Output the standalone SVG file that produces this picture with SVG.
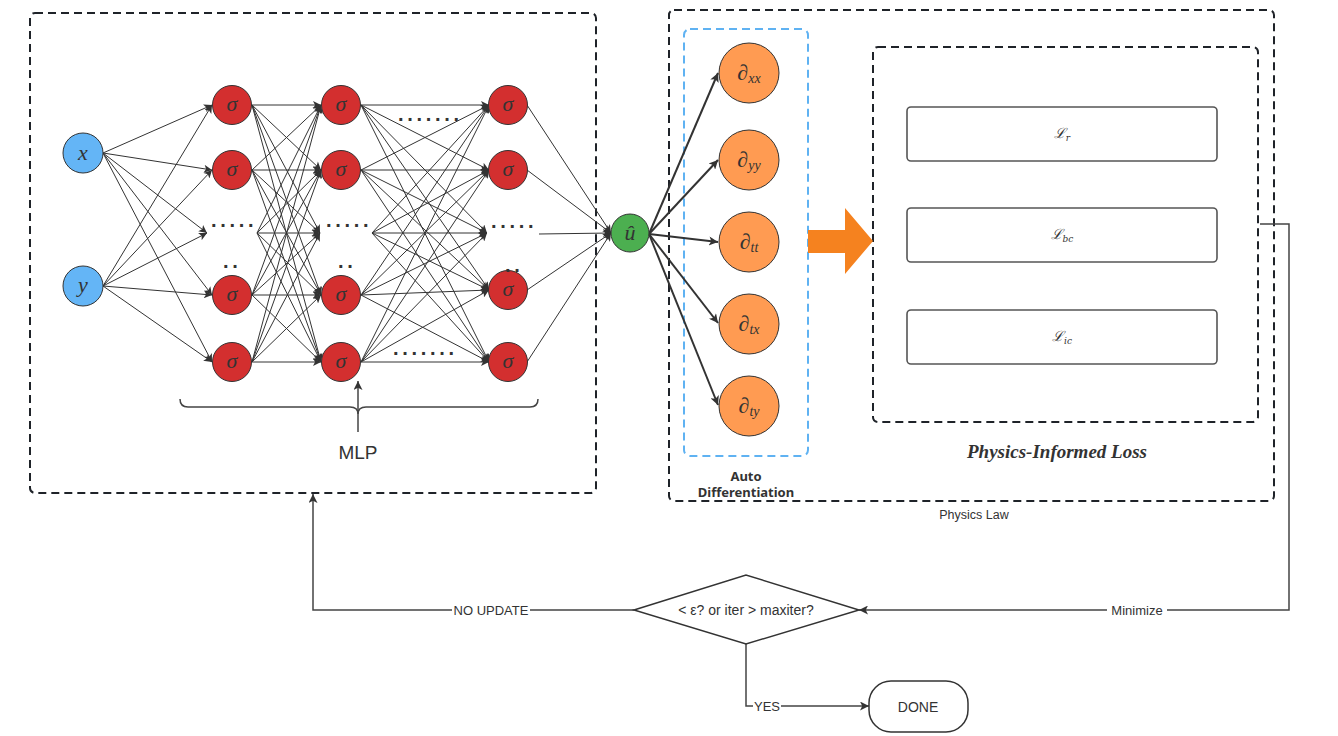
<svg xmlns="http://www.w3.org/2000/svg" width="1338" height="736" viewBox="0 0 1338 736">
<defs>
<marker id="a" markerUnits="userSpaceOnUse" viewBox="0 0 10 10" refX="10" refY="5" markerWidth="10" markerHeight="8" orient="auto"><path d="M0,0 L10,5 L0,10 L2.5,5 Z" fill="#333"/></marker>
<marker id="b" markerUnits="userSpaceOnUse" viewBox="0 0 10 10" refX="10" refY="5" markerWidth="12" markerHeight="9" orient="auto"><path d="M0,0 L10,5 L0,10 L2.5,5 Z" fill="#333"/></marker>
<style>
.box{fill:none;stroke:#1f2329;stroke-width:2;stroke-dasharray:8 5}
.blue{fill:none;stroke:#5fb2f2;stroke-width:2;stroke-dasharray:8 5}
.e{fill:none;stroke:#333;stroke-width:1;marker-end:url(#a)}
.d{fill:none;stroke:#333;stroke-width:2;marker-end:url(#b)}
.c{fill:none;stroke:#444;stroke-width:1.5}
.ca{fill:none;stroke:#444;stroke-width:1.5;marker-end:url(#b)}
.sig{fill:#d32f2f;stroke:#333;stroke-width:1}
.in{fill:#64b5f6;stroke:#333;stroke-width:1}
.der{fill:#ff9b52;stroke:#333;stroke-width:1}
.m{font-family:'Liberation Serif',serif;font-style:italic;fill:#333;text-anchor:middle}
.s{font-family:'Liberation Sans',sans-serif;fill:#333;text-anchor:middle}
.dots{font-family:'Liberation Sans',sans-serif;font-weight:bold;font-size:20px;fill:#333;letter-spacing:3.7px}
.L{font-family:'DejaVu Serif',serif;font-style:italic;font-size:14px;fill:#333;text-anchor:middle}
.lb{fill:#fff;stroke:#555;stroke-width:1.6}
</style>
</defs>
<rect id="mlp-box" class="box" x="30" y="13" width="566" height="480" rx="5"/>
<rect id="physics-law-box" class="box" x="669" y="10" width="605" height="491" rx="5"/>
<rect id="autodiff-box" class="blue" x="684" y="29" width="124" height="427" rx="6"/>
<rect id="loss-box" class="box" x="873" y="47" width="385" height="375" rx="5"/>
<g id="connectors">
<path class="e" d="M103,153 L212,105"/><path class="e" d="M103,153 L212,170"/><path class="e" d="M103,153 L207,233"/><path class="e" d="M103,153 L212,295"/><path class="e" d="M103,153 L212,362"/>
<path class="e" d="M103,286 L212,105"/><path class="e" d="M103,286 L212,170"/><path class="e" d="M103,286 L207,233"/><path class="e" d="M103,286 L212,295"/><path class="e" d="M103,286 L212,362"/>
<path class="e" d="M252,105 L321,105"/><path class="e" d="M252,105 L321,170"/><path class="e" d="M252,105 L320,233"/><path class="e" d="M252,105 L321,295"/><path class="e" d="M252,105 L321,362"/>
<path class="e" d="M252,170 L321,105"/><path class="e" d="M252,170 L321,170"/><path class="e" d="M252,170 L320,233"/><path class="e" d="M252,170 L321,295"/><path class="e" d="M252,170 L321,362"/>
<path class="e" d="M257,233 L321,105"/><path class="e" d="M257,233 L321,170"/><path class="e" d="M257,233 L320,233"/><path class="e" d="M257,233 L321,295"/><path class="e" d="M257,233 L321,362"/>
<path class="e" d="M252,295 L321,105"/><path class="e" d="M252,295 L321,170"/><path class="e" d="M252,295 L320,233"/><path class="e" d="M252,295 L321,295"/><path class="e" d="M252,295 L321,362"/>
<path class="e" d="M252,362 L321,105"/><path class="e" d="M252,362 L321,170"/><path class="e" d="M252,362 L320,233"/><path class="e" d="M252,362 L321,295"/><path class="e" d="M252,362 L321,362"/>
<path class="e" d="M361,105 L489,105"/><path class="e" d="M361,105 L489,170"/><path class="e" d="M361,105 L487,233"/><path class="e" d="M361,105 L489,290"/><path class="e" d="M361,105 L489,362"/>
<path class="e" d="M361,170 L489,105"/><path class="e" d="M361,170 L489,170"/><path class="e" d="M361,170 L487,233"/><path class="e" d="M361,170 L489,290"/><path class="e" d="M361,170 L489,362"/>
<path class="e" d="M372,233 L489,105"/><path class="e" d="M372,233 L489,170"/><path class="e" d="M372,233 L487,233"/><path class="e" d="M372,233 L489,290"/><path class="e" d="M372,233 L489,362"/>
<path class="e" d="M361,295 L489,105"/><path class="e" d="M361,295 L489,170"/><path class="e" d="M361,295 L487,233"/><path class="e" d="M361,295 L489,290"/><path class="e" d="M361,295 L489,362"/>
<path class="e" d="M361,362 L489,105"/><path class="e" d="M361,362 L489,170"/><path class="e" d="M361,362 L487,233"/><path class="e" d="M361,362 L489,290"/><path class="e" d="M361,362 L489,362"/>
<path class="e" d="M527,105 L611,233"/><path class="e" d="M527,170 L611,233"/><path class="e" d="M539,234 L611,233"/><path class="e" d="M527,290 L611,233"/><path class="e" d="M527,362 L611,233"/>
<path class="d" d="M649,234 L718,73"/><path class="d" d="M649,234 L718,160"/><path class="d" d="M649,234 L718,242"/><path class="d" d="M649,234 L718,323"/><path class="d" d="M649,234 L718,405"/>
<path class="c" d="M180,399 Q180,407 188,407 L350,407 Q358,407 358,414 Q358,407 366,407 L530,407 Q538,407 538,399"/>
<path class="ca" d="M358,432 L358,381"/>
<polygon fill="#f5821f" points="808,230 845,230 845,208 873,241 845,274 845,253 808,253"/>
<path class="ca" d="M1260,224 L1289,224 L1289,610 L859,610"/>
<path class="ca" d="M634,610 L313,610 L313,494"/>
<path class="ca" d="M746,644 L746,706 L869,706"/>
<rect x="1107" y="601" width="60" height="18" fill="#fff"/>
<text class="s" x="1137" y="615" font-size="13">Minimize</text>
<rect x="452" y="601" width="78" height="18" fill="#fff"/>
<text class="s" x="491" y="615" font-size="13">NO UPDATE</text>
<rect x="753" y="697" width="28" height="18" fill="#fff"/>
<text class="s" x="767" y="711" font-size="13">YES</text>
</g>
<g id="node-x"><circle class="in" cx="83" cy="153" r="20"/><text class="m" x="83" y="160" font-size="22">x</text></g>
<g id="node-y"><circle class="in" cx="83" cy="286" r="20"/><text class="m" x="83" y="292" font-size="22">y</text></g>
<g id="l1-1"><circle class="sig" cx="232" cy="105" r="19.5"/><text class="m" x="232" y="111" font-size="22">σ</text></g>
<g id="l1-2"><circle class="sig" cx="232" cy="170" r="19.5"/><text class="m" x="232" y="176" font-size="22">σ</text></g>
<g id="l1-4"><circle class="sig" cx="232" cy="295" r="19.5"/><text class="m" x="232" y="301" font-size="22">σ</text></g>
<g id="l1-5"><circle class="sig" cx="232" cy="362" r="19.5"/><text class="m" x="232" y="368" font-size="22">σ</text></g>
<g id="l2-1"><circle class="sig" cx="341" cy="105" r="19.5"/><text class="m" x="341" y="111" font-size="22">σ</text></g>
<g id="l2-2"><circle class="sig" cx="341" cy="170" r="19.5"/><text class="m" x="341" y="176" font-size="22">σ</text></g>
<g id="l2-4"><circle class="sig" cx="341" cy="295" r="19.5"/><text class="m" x="341" y="301" font-size="22">σ</text></g>
<g id="l2-5"><circle class="sig" cx="341" cy="362" r="19.5"/><text class="m" x="341" y="368" font-size="22">σ</text></g>
<g id="l3-1"><circle class="sig" cx="508" cy="105" r="19.5"/><text class="m" x="508" y="111" font-size="22">σ</text></g>
<g id="l3-2"><circle class="sig" cx="508" cy="170" r="19.5"/><text class="m" x="508" y="176" font-size="22">σ</text></g>
<g id="l3-4"><circle class="sig" cx="508" cy="290" r="19.5"/><text class="m" x="508" y="296" font-size="22">σ</text></g>
<g id="l3-5"><circle class="sig" cx="508" cy="362" r="19.5"/><text class="m" x="508" y="368" font-size="22">σ</text></g>
<g id="dots">
<text class="dots" x="211" y="227">.....</text>
<text class="dots" x="223" y="268">..</text>
<text class="dots" x="326" y="227">.....</text>
<text class="dots" x="338" y="268">..</text>
<text class="dots" x="491" y="228">.....</text>
<text class="dots" x="505" y="272">..</text>
<text class="dots" x="398" y="121">.......</text>
<text class="dots" x="393" y="355">.......</text>
</g>
<g id="node-u"><circle fill="#4caf50" stroke="#333" stroke-width="1" cx="630" cy="233" r="19"/><text class="m" x="630" y="240" font-size="22">û</text></g>
<g id="d-xx"><circle class="der" cx="749" cy="73" r="30"/><text class="m" x="749" y="80" font-size="22"><tspan font-weight="bold" font-style="normal">∂</tspan><tspan font-size="14" dy="3">xx</tspan></text></g>
<g id="d-yy"><circle class="der" cx="749" cy="160" r="30"/><text class="m" x="749" y="167" font-size="22"><tspan font-weight="bold" font-style="normal">∂</tspan><tspan font-size="14" dy="3">yy</tspan></text></g>
<g id="d-tt"><circle class="der" cx="749" cy="242" r="30"/><text class="m" x="749" y="249" font-size="22"><tspan font-weight="bold" font-style="normal">∂</tspan><tspan font-size="14" dy="3">tt</tspan></text></g>
<g id="d-tx"><circle class="der" cx="749" cy="324" r="30"/><text class="m" x="749" y="331" font-size="22"><tspan font-weight="bold" font-style="normal">∂</tspan><tspan font-size="14" dy="3">tx</tspan></text></g>
<g id="d-ty"><circle class="der" cx="749" cy="406" r="30"/><text class="m" x="749" y="413" font-size="22"><tspan font-weight="bold" font-style="normal">∂</tspan><tspan font-size="14" dy="3">ty</tspan></text></g>
<g id="loss-r"><rect class="lb" x="907" y="107" width="310" height="54" rx="4"/><text class="L" x="1062" y="138">ℒ<tspan font-size="9" dy="3">r</tspan></text></g>
<g id="loss-bc"><rect class="lb" x="907" y="208" width="310" height="54" rx="4"/><text class="L" x="1062" y="239">ℒ<tspan font-size="9" dy="3">bc</tspan></text></g>
<g id="loss-ic"><rect class="lb" x="907" y="310" width="310" height="54" rx="4"/><text class="L" x="1062" y="341">ℒ<tspan font-size="9" dy="3">ic</tspan></text></g>
<g id="labels">
<text class="s" x="358" y="459" font-size="19">MLP</text>
<text x="1057" y="458" font-family="'Liberation Serif',serif" font-weight="bold" font-style="italic" font-size="19" fill="#333" text-anchor="middle">Physics-Informed Loss</text>
<text x="746" y="481" font-family="'Noto Sans',sans-serif" font-weight="bold" font-size="13" fill="#333" text-anchor="middle">Auto</text>
<text x="746" y="497" font-family="'Noto Sans',sans-serif" font-weight="bold" font-size="13" fill="#333" text-anchor="middle">Differentiation</text>
<text class="s" x="974" y="519" font-size="12.5">Physics Law</text>
</g>
<g id="decision"><polygon points="634,610 746,575 859,610 746,644" fill="#fff" stroke="#333" stroke-width="1.5"/><text class="s" x="746" y="615" font-size="14">&lt; ε? or iter &gt; maxiter?</text></g>
<g id="done"><rect x="869" y="681" width="99" height="51" rx="22" fill="#fff" stroke="#333" stroke-width="1.5"/><text class="s" x="918" y="712" font-size="14">DONE</text></g>
</svg>
